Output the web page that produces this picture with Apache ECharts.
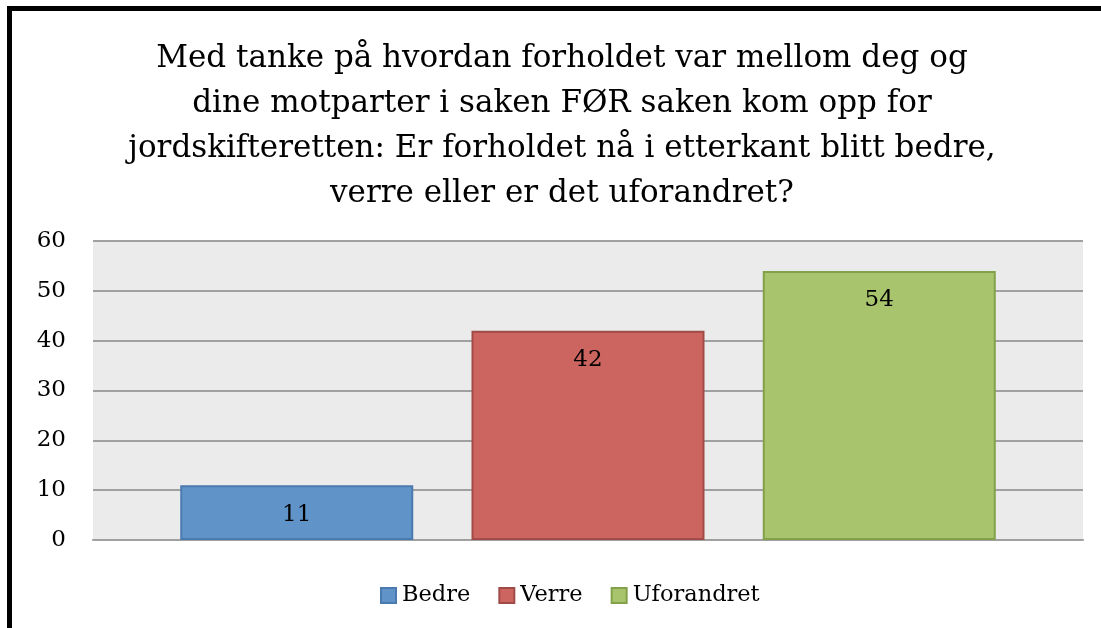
<!DOCTYPE html>
<html>
<head>
<meta charset="utf-8">
<script src="https://cdn.jsdelivr.net/npm/echarts@6/dist/echarts.min.js"></script>
<style>
    html, body { margin: 0; padding: 0; background: #fff; }
    #frame {
        position: absolute;
        left: 7px; top: 6px;
        width: 1200px; height: 700px;
        border-left: 5px solid #000;
        border-top: 5px solid #000;
    }
    #chart { position: absolute; left: 0; top: 0; width: 1101px; height: 628px; }
</style>
</head>
<body>
<div id="frame"></div>
<div id="chart"></div>
<script>
// data
const categories = ['Svar'];
const seriesNames = ['Bedre', 'Verre', 'Uforandret'];
const seriesValues = [11, 42, 54];
const fillColors = ['#6094c9', '#cc6560', '#a8c46c'];
const borderColors = ['#4a7ab0', '#a04b47', '#83a04a'];
const titleText = 'Med tanke på hvordan forholdet var mellom deg og\ndine motparter i saken FØR saken kom opp for\njordskifteretten: Er forholdet nå i etterkant blitt bedre,\nverre eller er det uforandret?';

const FONT = 'DejaVu Serif';

document.addEventListener('DOMContentLoaded', function() {
    const chart = echarts.init(document.getElementById('chart'));

    const series = seriesNames.map((name, i) => ({
        name: name,
        type: 'bar',
        data: [seriesValues[i]],
        barWidth: 233,
        barGap: '25%',
        itemStyle: {
            color: fillColors[i],
            borderColor: borderColors[i],
            borderWidth: 2
        },
        label: {
            show: true,
            position: 'insideTop',
            distance: 18,
            color: '#000',
            fontFamily: FONT,
            fontSize: 23
        }
    }));

    chart.setOption({
        animation: false,
        title: {
            text: titleText,
            left: 557,
            top: 31,
            textAlign: 'center',
            textStyle: {
                fontFamily: FONT,
                fontWeight: 'normal',
                fontSize: 31,
                lineHeight: 45,
                color: '#000'
            }
        },
        legend: {
            data: seriesNames,
            bottom: 16,
            left: 375,
            itemWidth: 15,
            itemHeight: 15,
            itemGap: 28,
            icon: 'rect',
            textStyle: { fontFamily: FONT, fontSize: 22.5, color: '#000', padding: [0, 0, 0, 1] }
        },
        grid: {
            left: 93,
            right: 18,
            top: 241,
            bottom: 88,
            show: true,
            backgroundColor: '#ebebeb',
            borderWidth: 0
        },
        xAxis: {
            type: 'category',
            data: categories,
            axisLine: { show: true, lineStyle: { color: '#a0a0a0', width: 2 } },
            axisTick: { show: false },
            axisLabel: { show: false }
        },
        yAxis: {
            type: 'value',
            min: 0,
            max: 60,
            interval: 10,
            axisLine: { show: false },
            axisTick: { show: false },
            axisLabel: { fontFamily: FONT, fontSize: 23, color: '#000', margin: 27 },
            splitLine: { lineStyle: { color: '#a0a0a0', width: 2 } }
        },
        series: series
    });
});
</script>
</body>
</html>
